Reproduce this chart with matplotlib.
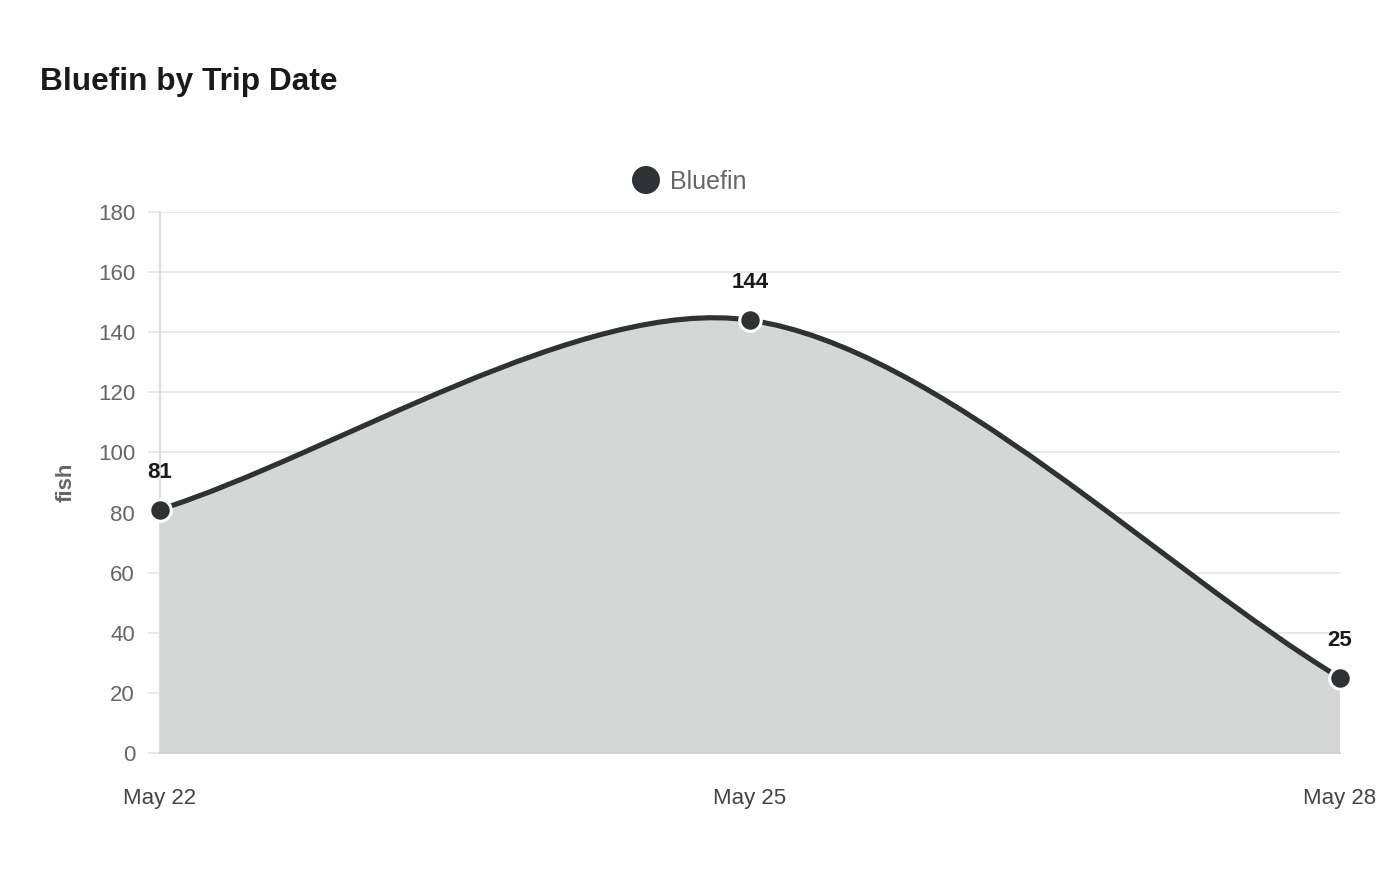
import matplotlib
matplotlib.use("Agg")
import matplotlib.pyplot as plt
from matplotlib.path import Path
from matplotlib.patches import PathPatch
import numpy as np

categories = ["May 22", "May 25", "May 28"]
values = [81, 144, 25]
y_ticks = [0, 20, 40, 60, 80, 100, 120, 140, 160, 180]
series_name = "Bluefin"
title = "Bluefin by Trip Date"
y_label = "fish"

LINE = "#2e3235"
FILL = "#d5d7d7"
GRID = "#e6e6e6"
TXT = "#666666"

plt.rcParams["font.family"] = ["Liberation Sans", "DejaVu Sans"]

W, H = 1400, 880
fig = plt.figure(figsize=(W / 100, H / 100), dpi=100)
L, R, B, T = 160, 1340, 753, 212
ax = fig.add_axes([L / W, 1 - B / H, (R - L) / W, (B - T) / H])

x = np.arange(len(categories))
ax.set_xlim(0, len(categories) - 1)
ax.set_ylim(0, 180)

# spline (Chart.js style) computed in pixel space
fig.canvas.draw()
pts = ax.transData.transform(np.column_stack([x, values]))
n = len(pts)
tension = 0.3
cp_prev = [None] * n
cp_next = [None] * n
for i in range(n):
    p0 = pts[i - 1] if i > 0 else pts[i]
    p1 = pts[i]
    p2 = pts[i + 1] if i < n - 1 else pts[i]
    d01 = np.hypot(*(p1 - p0))
    d12 = np.hypot(*(p2 - p1))
    tot = d01 + d12
    s01 = d01 / tot if tot else 0
    s12 = d12 / tot if tot else 0
    fa = tension * s01
    fb = tension * s12
    cp_prev[i] = p1 - fa * (p2 - p0)
    cp_next[i] = p1 + fb * (p2 - p0)
inv = ax.transData.inverted()
verts = [pts[0]]
codes = [Path.MOVETO]
for i in range(n - 1):
    verts += [cp_next[i], cp_prev[i + 1], pts[i + 1]]
    codes += [Path.CURVE4] * 3
verts_d = inv.transform(np.array(verts))
line_path = Path(verts_d, codes)

fill_verts = list(verts_d) + [[x[-1], 0], [x[0], 0], verts_d[0]]
fill_codes = codes + [Path.LINETO, Path.LINETO, Path.CLOSEPOLY]
ax.add_patch(PathPatch(Path(fill_verts, fill_codes), facecolor=FILL, edgecolor="none", zorder=1))
ax.add_patch(PathPatch(line_path, facecolor="none", edgecolor=LINE, lw=3.7, zorder=3,
                       capstyle="round", joinstyle="round"))

ax.scatter(x, values, s=240, color=LINE, edgecolor="white", linewidth=2.2, zorder=4, clip_on=False)
for xi, v in zip(x, values):
    ax.annotate(str(v), (xi, v), xytext=(0, 27), textcoords="offset pixels", ha="center", va="bottom",
                fontsize=16, fontweight="bold", color="#1a1a1a", zorder=5)

ax.set_yticks(y_ticks)
ax.set_xticks(x)
ax.set_xticklabels(categories)
ax.grid(axis="y", color=GRID, lw=1.3, zorder=0)
ax.set_axisbelow(True)
for s in ["top", "right"]:
    ax.spines[s].set_visible(False)
ax.spines["left"].set_color("#d9d9d9")
ax.spines["bottom"].set_color("#d0d0d0")
ax.spines["left"].set_linewidth(1.3)
ax.spines["bottom"].set_linewidth(1.3)
ax.tick_params(axis="y", length=9, width=1.3, color=GRID, pad=9, labelsize=16, labelcolor=TXT)
ax.tick_params(axis="x", length=0, pad=25, labelsize=16, labelcolor="#444444")
ax.set_ylabel(y_label, fontsize=16, fontweight="bold", color=TXT, labelpad=15)

fig.text(40 / W, 1 - 82 / H, title, fontsize=22.8, fontweight="bold", color="#1a1a1a", va="center", ha="left")
fig.patches.append(matplotlib.patches.Circle((646, H - 180), 14, transform=None, facecolor=LINE,
                                             edgecolor="none", figure=fig))
fig.text(670 / W, 1 - 182 / H, series_name, fontsize=18, color=TXT, va="center", ha="left")

fig.savefig("out.png", dpi=100, facecolor="white")
